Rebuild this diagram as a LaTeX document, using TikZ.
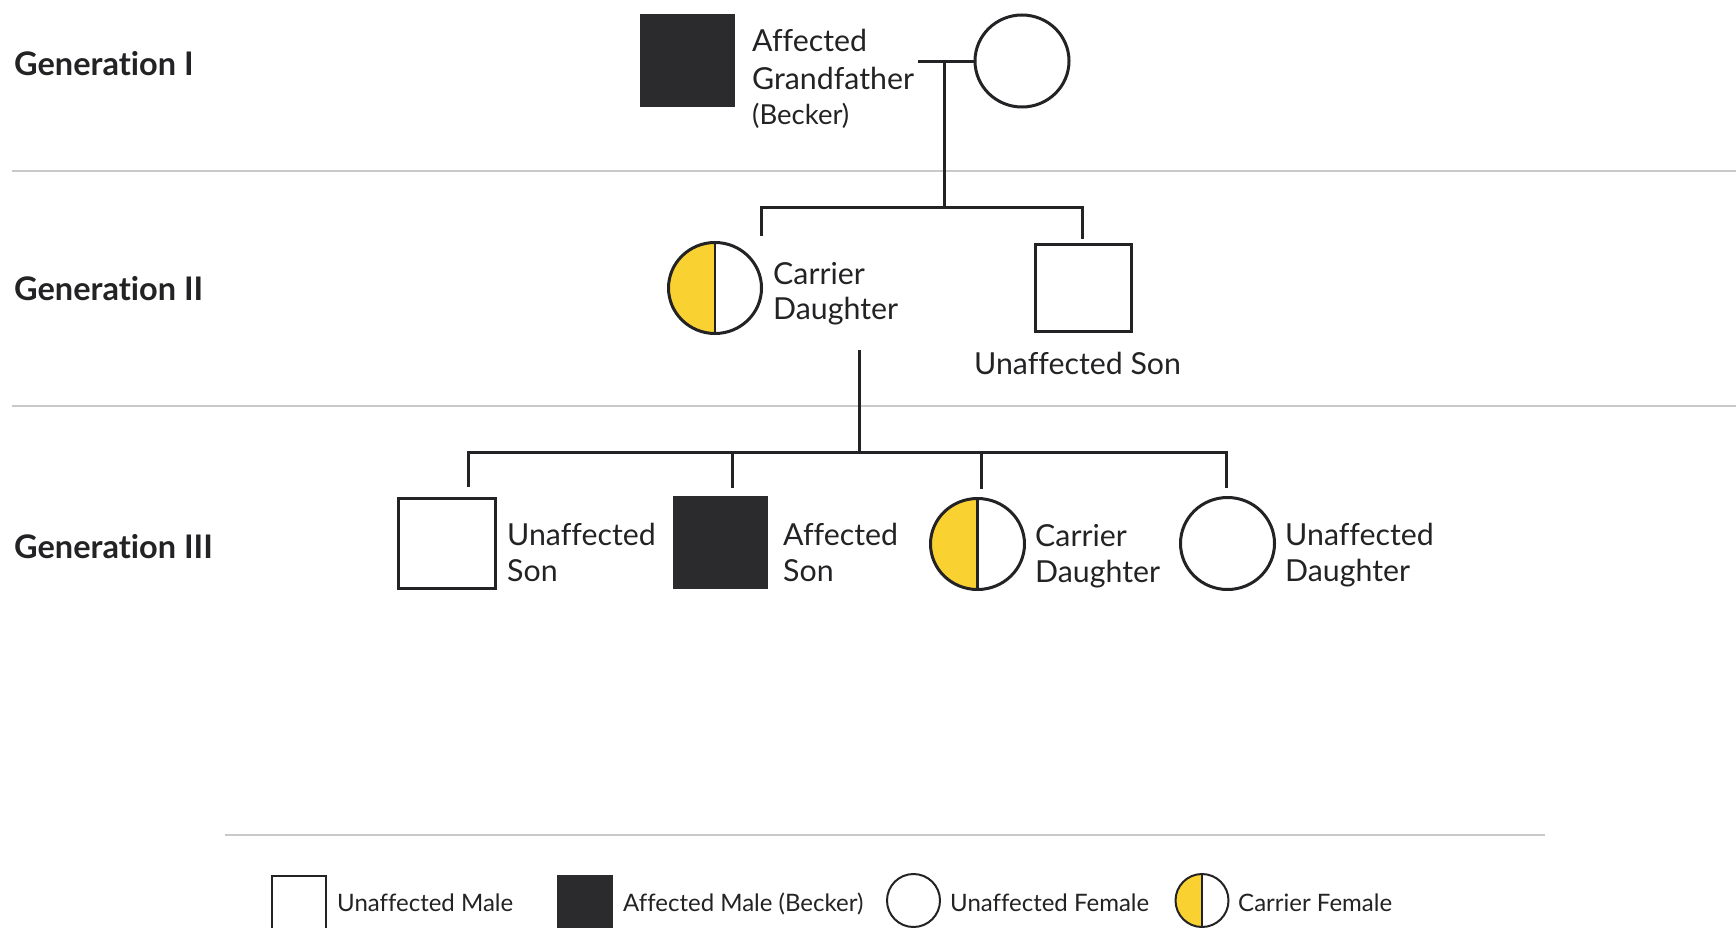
\documentclass[tikz,border=0pt]{standalone}
\usepackage{fontspec}
\setmainfont{Lato}[Ligatures=NoCommon]
\usetikzlibrary{shapes.geometric}
\definecolor{ink}{HTML}{232325}
\definecolor{dark}{HTML}{2B2B2E}
\definecolor{carrier}{HTML}{F9D232}
\definecolor{rulegray}{HTML}{C9C9CB}
\begin{document}
\begin{tikzpicture}[x=1pt,y=-1pt,
  male/.style={draw=ink, line width=3pt, rectangle, inner sep=0pt, fill=white},
  affm/.style={male, fill=dark, draw=dark},
  female/.style={draw=ink, line width=3pt, ellipse, inner sep=0pt, fill=white},
  carf/.style={female, path picture={\fill[carrier] (path picture bounding box.south west) rectangle (path picture bounding box.north); \draw[ink, line width=2.6pt] (path picture bounding box.north) -- (path picture bounding box.south);}},
  link/.style={draw=ink, line width=3pt},
  sepline/.style={draw=rulegray, line width=2pt},
  lbl/.style={anchor=base west, inner sep=0pt, text=ink, font=\fontsize{30.3}{36}\selectfont},
  small/.style={lbl, font=\fontsize{27.5}{30}\selectfont},
  genl/.style={lbl, font=\bfseries\fontsize{32.5}{38}\selectfont},
  leg/.style={lbl, font=\fontsize{24}{28}\selectfont}
]
\useasboundingbox (0,0) rectangle (1736,928);
\fill[white] (0,0) rectangle (1736,928);

% separators
\draw[sepline] (12,171) -- (1736,171);
\draw[sepline] (12,406) -- (1736,406);
\draw[sepline] (225,835) -- (1545,835);

% generation labels
\node[genl] (g1) at (14,76) {Generation I};
\node[genl] (g2) at (14,300) {Generation II};
\node[genl] (g3) at (14,558) {Generation III};

% Generation I
\node[affm, minimum width=92pt, minimum height=90pt] (gf) at (687.5,60.5) {};
\node[female, minimum width=94pt, minimum height=92pt] (gm) at (1022,61) {};
\node[lbl] (gfa) at (752,52) {Affected};
\node[lbl] (gfb) at (752,90) {Grandfather};
\node[small] (gfc) at (752,125) {(Becker)};

\coordinate (mL) at (918,62);
\coordinate (mD) at (944,62);
\coordinate (s2) at (944,207);
\draw[link] (mL) -- (mL -| gm.west);
\draw[link] (mD) -- (s2);

% Generation II
\node[carf, minimum width=93pt, minimum height=91pt] (cd2) at (715,288) {};
\node[male, minimum width=96pt, minimum height=87pt] (us2) at (1083.5,287.5) {};
\node[lbl] (cd2a) at (773,284) {Carrier};
\node[lbl] (cd2b) at (773,319) {Daughter};
\node[lbl] (us2a) at (974,374) {Unaffected Son};

\coordinate (d2L) at (761,236);
\coordinate (s2L) at (761,207);
\coordinate (s2R) at (1082,207);
\coordinate (d2R) at (1082,239);
\draw[link] (d2L) -- (s2L) -- (s2R) -- (d2R);

% Generation III
\node[male, minimum width=97pt, minimum height=90pt] (us3) at (447,543.5) {};
\node[affm, minimum width=92pt, minimum height=90pt] (as3) at (720.5,542.5) {};
\node[carf, minimum width=94pt, minimum height=91pt] (cd3) at (977.5,544) {};
\node[female, minimum width=94pt, minimum height=92pt] (ud3) at (1227.5,543.5) {};

\node[lbl] (us3a) at (507,545) {Unaffected};
\node[lbl] (us3b) at (507,581) {Son};
\node[lbl] (as3a) at (783,545) {Affected};
\node[lbl] (as3b) at (783,581) {Son};
\node[lbl] (cd3a) at (1035,546) {Carrier};
\node[lbl] (cd3b) at (1035,582) {Daughter};
\node[lbl] (ud3a) at (1285,545) {Unaffected};
\node[lbl] (ud3b) at (1285,581) {Daughter};

\coordinate (c3top) at (859,350);
\coordinate (c3) at (859,452);
\draw[link] (c3top) -- (c3);
\coordinate (s3L) at (468,452);
\coordinate (s3R) at (1226,452);
\draw[link] (468,487) -- (s3L) -- (s3R) -- (1226,488);
\draw[link] (732,452) -- (732,488);
\draw[link] (981,452) -- (981,489);

% Legend
\node[male, line width=2pt, minimum width=54pt, minimum height=54pt] (lum) at (299,903) {};
\node[affm, line width=2pt, minimum width=54pt, minimum height=54pt] (lam) at (584.5,903) {};
\node[female, line width=2pt, minimum width=53pt, minimum height=53pt] (luf) at (913.5,900.5) {};
\node[carf, line width=2pt, minimum width=53pt, minimum height=53pt] (lcf) at (1202,900.5) {};
\node[leg] (luma) at (337,911) {Unaffected Male};
\node[leg] (lama) at (623,911) {Affected Male (Becker)};
\node[leg] (lufa) at (950,911) {Unaffected Female};
\node[leg] (lcfa) at (1238,911) {Carrier Female};
\end{tikzpicture}
\end{document}
